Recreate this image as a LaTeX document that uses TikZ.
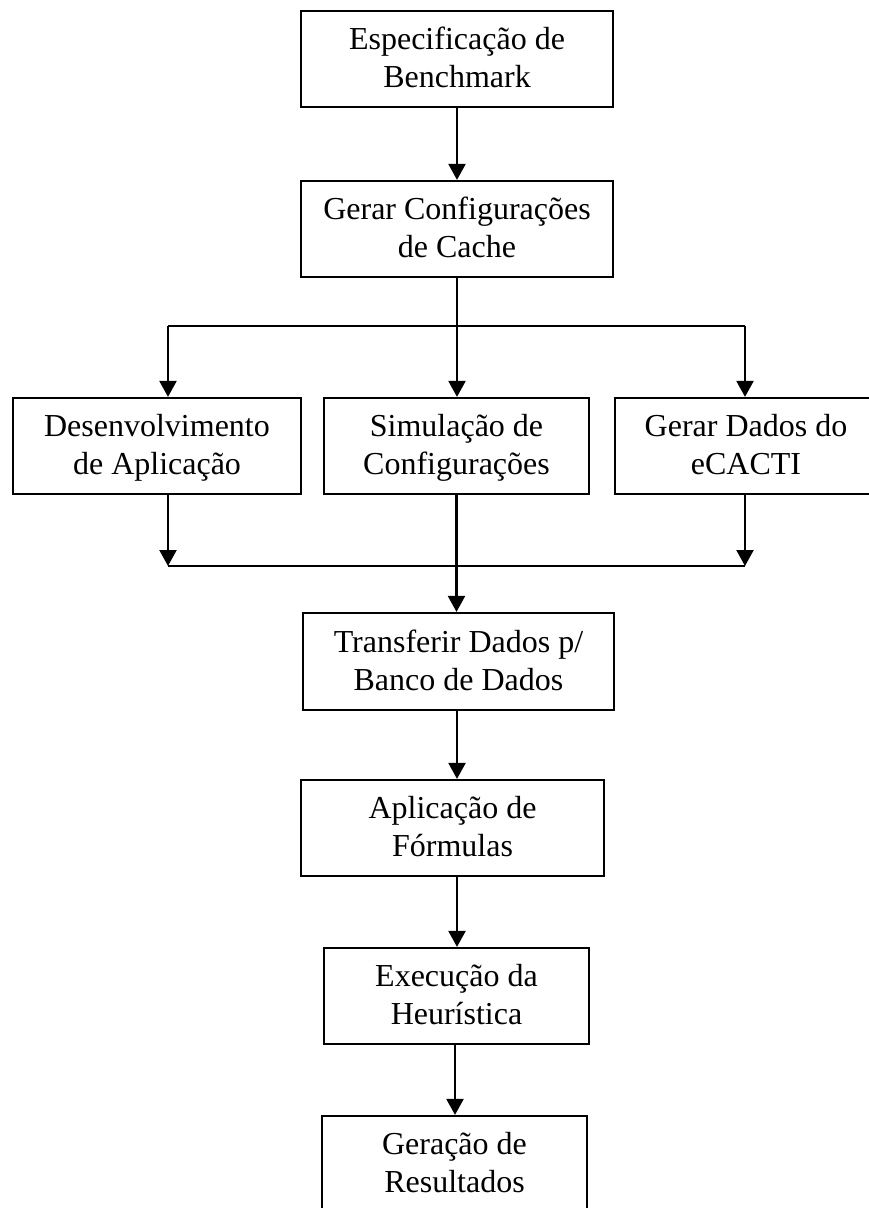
\documentclass[tikz,border=0pt]{standalone}
\usepackage{fontspec}
\setmainfont{Liberation Serif}
\usetikzlibrary{arrows.meta}
\newcommand\twolines[2]{\rule{0pt}{30.6pt}#1\\\strut#2}
\begin{document}
\begin{tikzpicture}[x=1pt,y=-1pt,
  box/.style={draw, line width=2.2pt, align=center, inner sep=0pt,
    minimum height=96pt, font=\fontsize{32}{38}\selectfont},
  link/.style={line width=2.2pt},
  arr/.style={line width=2.2pt, -{Triangle[width=17pt,length=16pt]}}]
\useasboundingbox (0,0) rectangle (868,1208);
\node[box, minimum width=312pt] (b1) at (457,59) {\twolines{Especificação de}{Benchmark}};
\node[box, minimum width=312pt] (b2) at (457,229) {\twolines{Gerar Configurações}{de Cache}};
\node[box, minimum width=288pt] (b3L) at (157,446) {\twolines{Desenvolvimento}{de Aplicação}};
\node[box, minimum width=265pt] (b3M) at (456.5,446) {\twolines{Simulação de}{Configurações}};
\node[box, minimum width=262pt] (b3R) at (746,446) {\twolines{Gerar Dados do}{eCACTI}};
\node[box, minimum width=311pt, minimum height=97pt] (b4) at (458.5,661.5) {\twolines{Transferir Dados p/}{Banco de Dados}};
\node[box, minimum width=303pt] (b5) at (452.5,828) {\twolines{Aplicação de}{Fórmulas}};
\node[box, minimum width=265pt] (b6) at (456.5,996) {\twolines{Execução da}{Heurística}};
\node[box, minimum width=265pt] (b7) at (454.5,1164) {\twolines{Geração de}{Resultados}};
\coordinate (tL) at (168,326);
\coordinate (tR) at (745,326);
\coordinate (j1) at (457,326);
\coordinate (bL) at (168,566);
\coordinate (bR) at (745,566);
\coordinate (x7) at (455,0);
\draw[arr] (b1.south) -- (b2.north);
\draw[link] (b2.south) -- (j1);
\draw[link] (tL) -- (tR);
\draw[arr] (tL) -- (tL |- b3L.north);
\draw[arr] (j1) -- (j1 |- b3M.north);
\draw[arr] (tR) -- (tR |- b3R.north);
\draw[arr] (tL |- b3L.south) -- (bL);
\draw[arr] (tR |- b3R.south) -- (bR);
\draw[link] (bL) -- (bR);
\draw[arr] (b3M.south) -- (b3M.south |- b4.north);
\draw[arr] (b4.south -| j1) -- (j1 |- b5.north);
\draw[arr] (b5.south -| j1) -- (j1 |- b6.north);
\draw[arr] (b6.south -| x7) -- (x7 |- b7.north);
\end{tikzpicture}
\end{document}
